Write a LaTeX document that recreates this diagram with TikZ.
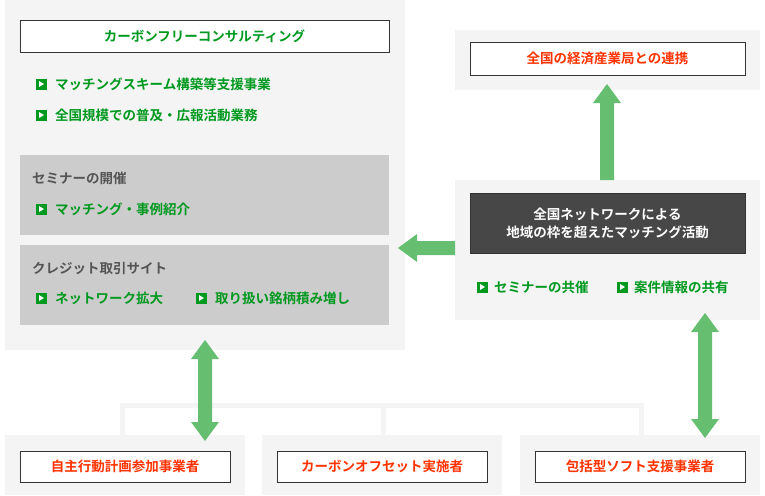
\documentclass[tikz,border=0pt]{standalone}
\usepackage{fontspec}
\setmainfont{Noto Sans CJK JP}[BoldFont={* Bold}]
\usetikzlibrary{arrows.meta}
\definecolor{pan}{HTML}{F4F4F4}
\definecolor{gbox}{HTML}{CCCCCC}
\definecolor{gtxt}{HTML}{00991F}
\definecolor{rtxt}{HTML}{FF3300}
\definecolor{dbox}{HTML}{474747}
\definecolor{arr}{HTML}{66BF70}
\definecolor{htxt}{HTML}{555555}
\begin{document}
\begin{tikzpicture}[x=1pt,y=-1pt,
  panel/.style={fill=pan,draw=none},
  wbox/.style={fill=white,draw=black!80,line width=0.8pt},
  txt/.style={font=\fontsize{13.5}{16}\selectfont\bfseries,inner sep=0pt},
  gt/.style={txt,text=gtxt,anchor=west},
  rt/.style={txt,text=rtxt},
  ht/.style={txt,text=htxt,anchor=west},
  bul/.style={fill=gtxt,minimum size=11pt,inner sep=0pt,
    path picture={\fill[white] ([xshift=-2pt,yshift=-3pt]path picture bounding box.center) -- ++(0,6pt) -- ++(5pt,-3pt) -- cycle;}},
  fat/.style={draw=none,fill=arr},
  conn/.style={draw=pan,line width=5pt}
]
\useasboundingbox (0,0) rectangle (765,495);
% connectors
\draw[conn] (122,435) -- (122,405) -- (641,405) -- (641,435);
\draw[conn] (383,405) -- (383,435);
% panels
\fill[panel] (5,0) rectangle (405,350);
\fill[panel] (455,30) rectangle (760,90);
\fill[panel] (455,180) rectangle (760,320);
\fill[panel] (5,435) rectangle (245,495);
\fill[panel] (262,435) rectangle (502,495);
\fill[panel] (520,435) rectangle (760,495);
% left panel
\node[wbox,minimum width=369pt,minimum height=32pt,inner sep=0pt] (cfc) at (204.5,36) {};
\node[txt,text=gtxt] (cfct) at (cfc) {カーボンフリーコンサルティング};
\node[bul] (b1) at (41,84) {}; \node[gt] (t1) at (55,84) {マッチングスキーム構築等支援事業};
\node[bul] (b2) at (41,115) {}; \node[gt] (t2) at (55,115) {全国規模での普及・広報活動業務};
\fill[gbox] (20,155) rectangle (389,235);
\node[ht] (h1) at (32,178) {セミナーの開催};
\node[bul] (b3) at (41,209) {}; \node[gt] (t3) at (55,209) {マッチング・事例紹介};
\fill[gbox] (20,245) rectangle (389,325);
\node[ht] (h2) at (32,268) {クレジット取引サイト};
\node[bul] (b4) at (41,298) {}; \node[gt] (t4) at (55,298) {ネットワーク拡大};
\node[bul] (b5) at (201,298) {}; \node[gt] (t5) at (215,298) {取り扱い銘柄積み増し};
% right
\node[wbox,minimum width=275pt,minimum height=33pt,inner sep=0pt] (meti) at (607.5,58.5) {};
\node[rt] at (meti) {全国の経済産業局との連携};
\node[fill=dbox,draw=black!80,minimum width=275pt,minimum height=60pt,inner sep=0pt,
  text=white,align=center,font=\fontsize{13.5}{18}\selectfont\bfseries] (net) at (607.5,223) {全国ネットワークによる\\地域の枠を超えたマッチング活動};
\node[bul] (b6) at (482,287) {}; \node[gt] (t6) at (494,287) {セミナーの共催};
\node[bul] (b7) at (622,287) {}; \node[gt] (t7) at (634,287) {案件情報の共有};
% bottom
\node[wbox,minimum width=210pt,minimum height=31pt,inner sep=0pt] (p1) at (125,466.5) {};
\node[rt] at (p1) {自主行動計画参加事業者};
\node[wbox,minimum width=210pt,minimum height=31pt,inner sep=0pt] (p2) at (382,466.5) {};
\node[rt] at (p2) {カーボンオフセット実施者};
\node[wbox,minimum width=210pt,minimum height=31pt,inner sep=0pt] (p3) at (640,466.5) {};
\node[rt] at (p3) {包括型ソフト支援事業者};
% arrows
\fill[fat] (600,180) -- (600,103) -- (593,103) -- (607,84) -- (621,103) -- (614,103) -- (614,180) -- cycle;
\fill[fat] (455,241) -- (417,241) -- (417,234) -- (398,248) -- (417,262) -- (417,255) -- (455,255) -- cycle;
\fill[fat] (205,340) -- (219,359) -- (212,359) -- (212,422) -- (219,422) -- (205,441) -- (191,422) -- (198,422) -- (198,359) -- (191,359) -- cycle;
\fill[fat] (705,313) -- (719,332) -- (712,332) -- (712,419) -- (719,419) -- (705,438) -- (691,419) -- (698,419) -- (698,332) -- (691,332) -- cycle;
\end{tikzpicture}
\end{document}
